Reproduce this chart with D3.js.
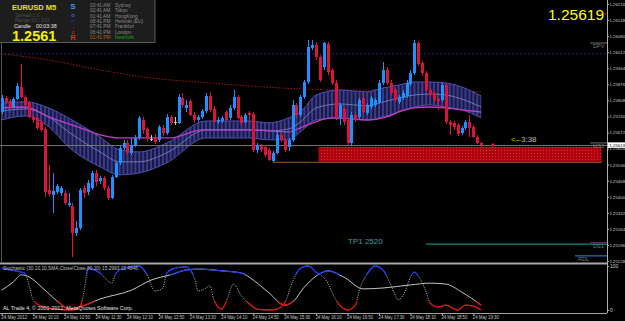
<!DOCTYPE html>
<html><head><meta charset="utf-8">
<script src="https://cdnjs.cloudflare.com/ajax/libs/d3/7.8.5/d3.min.js"></script>
<style>
html,body{margin:0;padding:0;background:#000;overflow:hidden;}
svg{display:block;}
text{font-family:"Liberation Sans",Arial,sans-serif;}
</style></head><body>
<svg id="c" width="625" height="321"></svg>
<script>
// ---------- DATA ----------
const open=[1.25759,1.25818,1.25806,1.25780,1.25814,1.25865,1.25823,1.25797,1.25738,1.25734,1.25717,1.25687,1.25429,1.25408,1.25421,1.25417,1.25417,1.25366,1.25362,1.25247,1.25269,1.25438,1.25421,1.25438,1.25501,1.25467,1.25480,1.25438,1.25395,1.25484,1.25544,1.25607,1.25628,1.25586,1.25620,1.25649,1.25725,1.25687,1.25645,1.25653,1.25641,1.25692,1.25670,1.25738,1.25717,1.25713,1.25818,1.25776,1.25806,1.25747,1.25725,1.25738,1.25763,1.25827,1.25772,1.25717,1.25721,1.25759,1.25734,1.25776,1.25823,1.25738,1.25717,1.25755,1.25751,1.25599,1.25615,1.25611,1.25599,1.25552,1.25586,1.25662,1.25641,1.25611,1.25641,1.25789,1.25747,1.25823,1.25886,1.26030,1.26043,1.25992,1.25950,1.26047,1.25937,1.25882,1.25738,1.25772,1.25725,1.25628,1.25747,1.25738,1.25818,1.25755,1.25780,1.25789,1.25802,1.25882,1.25937,1.25882,1.25852,1.25802,1.25818,1.25827,1.25878,1.25924,1.26051,1.25967,1.25924,1.25852,1.25840,1.25814,1.25810,1.25873,1.25717,1.25713,1.25704,1.25670,1.25692,1.25717,1.25696,1.25653,1.25628];
const high=[1.25831,1.25827,1.25814,1.25823,1.25882,1.25962,1.25831,1.25806,1.25747,1.25742,1.25725,1.25696,1.25535,1.25501,1.25455,1.25446,1.25429,1.25417,1.25374,1.25298,1.25438,1.25450,1.25472,1.25510,1.25514,1.25489,1.25489,1.25446,1.25493,1.25552,1.25620,1.25641,1.25641,1.25649,1.25662,1.25742,1.25738,1.25696,1.25662,1.25666,1.25704,1.25704,1.25751,1.25747,1.25738,1.25835,1.25840,1.25810,1.25814,1.25759,1.25747,1.25772,1.25840,1.25844,1.25785,1.25738,1.25742,1.25768,1.25789,1.25852,1.25831,1.25747,1.25755,1.25763,1.25759,1.25628,1.25624,1.25620,1.25607,1.25594,1.25675,1.25670,1.25649,1.25649,1.25810,1.25797,1.25831,1.25895,1.26064,1.26064,1.26055,1.26000,1.26055,1.26055,1.25945,1.25895,1.25797,1.25785,1.25734,1.25759,1.25755,1.25818,1.25835,1.25797,1.25827,1.25818,1.25895,1.25971,1.25950,1.25895,1.25861,1.25831,1.25852,1.25895,1.25937,1.26064,1.26060,1.25975,1.25933,1.25861,1.25848,1.25823,1.25882,1.25882,1.25725,1.25721,1.25713,1.25700,1.25725,1.25747,1.25704,1.25662,1.25632];
const low=[1.25751,1.25793,1.25772,1.25776,1.25810,1.25818,1.25780,1.25734,1.25713,1.25683,1.25675,1.25400,1.25404,1.25332,1.25412,1.25404,1.25366,1.25357,1.25146,1.25235,1.25260,1.25395,1.25408,1.25429,1.25446,1.25455,1.25429,1.25387,1.25391,1.25480,1.25535,1.25599,1.25577,1.25577,1.25611,1.25641,1.25666,1.25637,1.25637,1.25624,1.25632,1.25658,1.25662,1.25704,1.25704,1.25708,1.25776,1.25759,1.25742,1.25713,1.25717,1.25730,1.25755,1.25759,1.25713,1.25708,1.25713,1.25721,1.25725,1.25768,1.25730,1.25704,1.25708,1.25713,1.25590,1.25586,1.25590,1.25569,1.25552,1.25548,1.25582,1.25632,1.25590,1.25594,1.25632,1.25734,1.25738,1.25814,1.25878,1.26022,1.25979,1.25886,1.25937,1.25916,1.25873,1.25725,1.25704,1.25704,1.25620,1.25615,1.25717,1.25730,1.25751,1.25747,1.25772,1.25780,1.25793,1.25873,1.25873,1.25831,1.25802,1.25793,1.25810,1.25818,1.25869,1.25916,1.25954,1.25912,1.25844,1.25823,1.25802,1.25768,1.25802,1.25708,1.25662,1.25683,1.25658,1.25662,1.25683,1.25653,1.25649,1.25624,1.25611];
const close=[1.25818,1.25802,1.25780,1.25814,1.25869,1.25823,1.25789,1.25738,1.25725,1.25692,1.25683,1.25421,1.25412,1.25425,1.25446,1.25438,1.25374,1.25374,1.25247,1.25269,1.25429,1.25417,1.25459,1.25501,1.25463,1.25480,1.25438,1.25395,1.25484,1.25544,1.25607,1.25628,1.25586,1.25620,1.25649,1.25734,1.25683,1.25645,1.25645,1.25632,1.25696,1.25670,1.25738,1.25713,1.25717,1.25823,1.25789,1.25789,1.25747,1.25725,1.25738,1.25763,1.25827,1.25768,1.25717,1.25725,1.25734,1.25725,1.25776,1.25823,1.25734,1.25713,1.25747,1.25747,1.25599,1.25620,1.25599,1.25577,1.25556,1.25586,1.25662,1.25641,1.25599,1.25641,1.25789,1.25747,1.25823,1.25886,1.26034,1.26043,1.25992,1.25895,1.26051,1.25928,1.25882,1.25738,1.25789,1.25717,1.25628,1.25747,1.25725,1.25810,1.25759,1.25789,1.25818,1.25810,1.25882,1.25937,1.25882,1.25840,1.25810,1.25823,1.25840,1.25882,1.25924,1.26051,1.25962,1.25924,1.25852,1.25831,1.25810,1.25806,1.25873,1.25717,1.25704,1.25696,1.25666,1.25692,1.25717,1.25692,1.25653,1.25628,1.25619];

// Sonic R dragon band (EMA34 high / low / close) and EMA89, EMA200
const bandIdx=[0,6,12,17,25,30,35,42,52,63,68,73,76,80,86,93,96,101,105,109,113,117,122];
const bandUpper=[1.25797,1.25802,1.25776,1.25734,1.25653,1.25599,1.25590,1.25628,1.25721,1.25721,1.25713,1.25734,1.25759,1.25831,1.25852,1.25844,1.25857,1.25873,1.25886,1.25886,1.25882,1.25865,1.25827];
const bandLower=[1.25725,1.25742,1.25696,1.25611,1.25527,1.25493,1.25501,1.25544,1.25649,1.25649,1.25641,1.25641,1.25675,1.25725,1.25734,1.25725,1.25734,1.25759,1.25780,1.25789,1.25780,1.25768,1.25734];
const bandMid=[1.25763,1.25772,1.25738,1.25675,1.25590,1.25548,1.25548,1.25586,1.25683,1.25683,1.25679,1.25687,1.25717,1.25776,1.25793,1.25785,1.25797,1.25818,1.25831,1.25835,1.25831,1.25814,1.25780];
const ema89Idx=[0,6,12,20,25,30,43,51,64,73,76,84,93,98,101,105,109,113,117,122];
const ema89=[1.25776,1.25780,1.25738,1.25692,1.25662,1.25649,1.25649,1.25683,1.25683,1.25675,1.25692,1.25734,1.25725,1.25738,1.25759,1.25776,1.25780,1.25776,1.25768,1.25759];
const ema200Idx=[0,12,25,38,53,63,76,89,106,122];
const ema200=[1.26005,1.25979,1.25937,1.25903,1.25882,1.25869,1.25857,1.25852,1.25852,1.25844];

// Stochastic (30,10,10)
const stochIdxA=[0,3,5,7,11,15,17,20,25,33,38,43,47,50,56,61,64,68,72,74,77,80,83,87,92,97,104,109,113,117,122];
const stochA=[45,64,80,75,45,14,2,7,25,45,68,80,91,93,89,84,68,39,11,18,52,77,89,75,48,50,57,61,59,41,11];
const stochIdxB=[0,2,5,6,7,8,10,14,18,20,21,22,25,28,29,31,35,37,39,41,42,44,47,49,50,52,53,54,56,57,59,61,63,65,68,70,72,74,76,78,80,83,84,86,88,90,91,93,95,97,99,101,102,105,106,108,109,111,113,116,118,120,122];
const stochB=[95,91,86,82,55,23,9,2,0,9,45,95,84,61,82,95,100,80,43,50,84,95,98,73,43,50,55,23,2,16,59,32,14,2,0,2,16,64,95,100,86,61,41,11,0,11,45,82,100,91,57,23,32,86,77,41,16,7,11,0,11,9,0];

// axis labels
const priceTicks=[1.26216,1.26148,1.26080,1.26012,1.25944,1.25876,1.25808,1.25740,1.25672,1.25604,1.25536,1.25468,1.25400,1.25332,1.25264,1.25196,1.25128];
const timeIdx=[0,8,16,24,32,40,48,56,64,72,80,88,96,104,112,120];
const timeLabels=["24 May 2012","24 May 10:10","24 May 10:50","24 May 11:30","24 May 12:10","24 May 12:50","24 May 13:30","24 May 14:10","24 May 14:50","24 May 15:30","24 May 16:10","24 May 16:50","24 May 17:30","24 May 18:10","24 May 18:50","24 May 19:30"];

// levels / objects
const bid=1.25619;
const pivotDash=1.26005;
const levelNames=["DPV","MS1","DS1","RDL"];
const levelPrices=[1.26051,1.25628,1.25206,1.25150];
const zone={start:81,end:153,top:1.25611,bottom:1.25548};
const support={start:69,end:153,price:1.25548};
const tp1={start:108,price:1.25200,label:"TP1  2520"};
const markerIdx=125;

const sessions=["03:41 AM","02:41 AM","01:41 AM","08:41 PM","07:41 PM","06:41 PM","01:41 PM"];
const cities=["Sydney","Tokyo","HongKong","Helsinki (EU)","Frankfurt","London","NewYork"];
const sonic=["S","o","n","i","c","R"];
const sonicColors=["#3aa0ff","#2f6fe8","#23239a","#7a1010","#c01818","#ff1a1a"];

// ---------- SCALES ----------
const svg=d3.select('#c');
const axisX=607;
const x=d3.scaleLinear().domain([0,122]).range([1.7,481.2]);
const y=d3.scaleLinear().domain([1.26233,1.25124]).range([0,262]);
const ys=d3.scaleLinear().domain([0,100]).range([310,266]);
const step=x(1)-x(0);

svg.append('rect').attr('width',625).attr('height',321).attr('fill','#000');
const defs=svg.append('defs');
const pat=defs.append('pattern').attr('id','hatch').attr('patternUnits','userSpaceOnUse')
  .attr('width',step).attr('height',8).attr('x',x(0)-1);
pat.append('rect').attr('width',step).attr('height',8).attr('fill','#17173f');
pat.append('rect').attr('width',2).attr('height',8).attr('fill','#3b3b8c');
const zp=defs.append('pattern').attr('id','zonepat').attr('patternUnits','userSpaceOnUse').attr('width',3).attr('height',3);
zp.append('rect').attr('width',3).attr('height',3).attr('fill','#b3000e');
zp.append('rect').attr('x',0).attr('y',0).attr('width',1).attr('height',1).attr('fill','#e02a34');
zp.append('rect').attr('x',1.5).attr('y',1.5).attr('width',1).attr('height',1).attr('fill','#8a0008');
defs.append('clipPath').attr('id','mainClip').append('rect').attr('x',0).attr('y',0).attr('width',axisX).attr('height',262);
defs.append('clipPath').attr('id','subClip').append('rect').attr('x',0).attr('y',264.5).attr('width',axisX).attr('height',48.5);
defs.append('clipPath').attr('id','hiClip').append('rect').attr('x',0).attr('y',264.5).attr('width',axisX).attr('height',ys(80)-264.5);
defs.append('clipPath').attr('id','loClip').append('rect').attr('x',0).attr('y',ys(20)).attr('width',axisX).attr('height',313-ys(20));

const main=svg.append('g').attr('clip-path','url(#mainClip)');

// left border line
main.append('line').attr('x1',1.5).attr('x2',1.5).attr('y1',42).attr('y2',262).attr('stroke','#6a6a6a').attr('stroke-width',0.8);

// dashed navy level
main.append('line').attr('x1',0).attr('x2',axisX).attr('y1',y(pivotDash)).attr('y2',y(pivotDash))
  .attr('stroke','#23237a').attr('stroke-dasharray','2,2').attr('stroke-width',1);

// EMA200 dotted red
main.append('path').datum(ema200Idx.map((d,k)=>[d,ema200[k]]))
  .attr('d',d3.line().x(d=>x(d[0])).y(d=>y(d[1])).curve(d3.curveMonotoneX))
  .attr('fill','none').attr('stroke','#a01818').attr('stroke-width',1).attr('stroke-dasharray','1.5,1.5');

// band
const band=bandIdx.map((d,k)=>({i:d,hi:bandUpper[k],lo:bandLower[k],mid:bandMid[k]}));
main.append('path').datum(band)
  .attr('d',d3.area().x(d=>x(d.i)).y0(d=>y(d.lo)).y1(d=>y(d.hi)).curve(d3.curveMonotoneX))
  .attr('fill','url(#hatch)');
['hi','lo'].forEach(k=>{
  main.append('path').datum(band).attr('d',d3.line().x(d=>x(d.i)).y(d=>y(d[k])).curve(d3.curveMonotoneX))
    .attr('fill','none').attr('stroke','#5050b0').attr('stroke-width',1);
});
main.append('path').datum(band).attr('d',d3.line().x(d=>x(d.i)).y(d=>y(d.mid)).curve(d3.curveMonotoneX))
  .attr('fill','none').attr('stroke','#7e8cc8').attr('stroke-width',0.8);
// EMA89 magenta
main.append('path').datum(ema89Idx.map((d,k)=>[d,ema89[k]]))
  .attr('d',d3.line().x(d=>x(d[0])).y(d=>y(d[1])).curve(d3.curveMonotoneX))
  .attr('fill','none').attr('stroke','#c23cc8').attr('stroke-width',1.3);

// zone & support
main.append('rect').attr('x',x(zone.start)-1.5).attr('width',x(zone.end)-x(zone.start))
  .attr('y',y(zone.top)).attr('height',y(zone.bottom)-y(zone.top)).attr('fill','url(#zonepat)');
main.append('line').attr('x1',x(support.start)).attr('x2',x(support.end)-1).attr('y1',y(support.price)+0.5).attr('y2',y(support.price)+0.5)
  .attr('stroke','#9a5a10').attr('stroke-width',1);
// bid line
main.append('line').attr('x1',0).attr('x2',axisX).attr('y1',y(bid)+0.5).attr('y2',y(bid)+0.5)
  .attr('stroke','#767676').attr('stroke-width',1);
// TP1 line
main.append('line').attr('x1',x(tp1.start)).attr('x2',axisX).attr('y1',y(tp1.price)).attr('y2',y(tp1.price))
  .attr('stroke','#0f8a80').attr('stroke-width',1.2);
main.append('text').attr('x',348).attr('y',y(tp1.price)-0.5).text(tp1.label)
  .attr('font-size',8).attr('fill','#28a4a4');

// candles
const bars=d3.range(open.length);
const col=i=>close[i]>open[i]?'#1e90ff':(close[i]<open[i]?'#dc143c':'#c8c8c8');
const cg=main.append('g').attr('shape-rendering','crispEdges');
cg.selectAll('line.w').data(bars).join('line').attr('class','w')
  .attr('x1',i=>Math.round(x(i))+0.5).attr('x2',i=>Math.round(x(i))+0.5)
  .attr('y1',i=>y(high[i])).attr('y2',i=>y(low[i])).attr('stroke',col).attr('stroke-width',1);
cg.selectAll('rect.b').data(bars).join('rect').attr('class','b')
  .attr('x',i=>Math.round(x(i))-1).attr('width',3)
  .attr('y',i=>Math.min(y(open[i]),y(close[i])))
  .attr('height',i=>Math.max(1,Math.abs(y(open[i])-y(close[i]))))
  .attr('fill',col);
// current marker
main.append('rect').attr('x',Math.round(x(markerIdx))-1.5).attr('y',y(bid)-1.5).attr('width',3).attr('height',3).attr('fill','#dc143c');

// timer text
main.append('text').attr('x',511).attr('y',141.7).text('<--3:38')
  .attr('font-family','"Liberation Mono",monospace').attr('font-size',8).attr('fill','#c8c800');

// level marks near axis
const lvColors=['#8a8a8a','#8a8a8a','#7a3a9a','#2070e0'];
const lvStart=[590,590,590,575];
levelNames.forEach((n,k)=>{
  const yy=y(levelPrices[k]);
  svg.append('line').attr('x1',lvStart[k]).attr('x2',axisX).attr('y1',yy).attr('y2',yy).attr('stroke',lvColors[k]).attr('stroke-width',k==3?1.2:0.8);
  svg.append('text').attr('x',k==3?578:593).attr('y',yy+5.5).text(n).attr('font-size',5.5).attr('fill','#7c7c7c');
});
svg.append('line').attr('x1',597).attr('x2',axisX).attr('y1',14).attr('y2',14).attr('stroke','#d02020').attr('stroke-width',0.8);

// big price
svg.append('text').attr('x',548).attr('y',19.5).text(d3.format('.5f')(bid)).attr('font-size',15.5).attr('fill','#ffff00');

// price axis
const pa=svg.append('g').attr('transform',`translate(${axisX},0)`)
  .call(d3.axisRight(y).tickValues(priceTicks).tickSize(2).tickFormat(d3.format('.5f')));
pa.select('.domain').attr('stroke','#b0b0b0').attr('d','M0.5,0V313');
pa.selectAll('.tick line').attr('stroke','#b0b0b0');
pa.selectAll('.tick text').attr('fill','#c8c8c8').attr('font-size',4.3).attr('x',2.5).attr('font-family','"Liberation Sans",Arial,sans-serif');
// current price box
svg.append('rect').attr('x',608).attr('y',y(bid)-2.7).attr('width',17).attr('height',5.5).attr('fill','#ffffff');
svg.append('text').attr('x',609.5).attr('y',y(bid)+1.7).text(d3.format('.5f')(bid)).attr('font-size',4.3).attr('fill','#000');

// separators
svg.append('line').attr('x1',0).attr('x2',axisX).attr('y1',263.5).attr('y2',263.5).attr('stroke','#a8a8a8').attr('stroke-width',2);
svg.append('line').attr('x1',0).attr('x2',axisX).attr('y1',313.5).attr('y2',313.5).attr('stroke','#a0a0a0').attr('stroke-width',1);

// stochastic subwindow
const sub=svg.append('g').attr('clip-path','url(#subClip)');
const lineS=d3.line().x(d=>x(d[0])).y(d=>ys(d[1])).curve(d3.curveMonotoneX);
const dA=stochIdxA.map((d,k)=>[d,stochA[k]]);
const dB=stochIdxB.map((d,k)=>[d,stochB[k]]);
sub.append('path').datum(dA).attr('d',lineS).attr('fill','none').attr('stroke','#c4c4c4').attr('stroke-width',1);
sub.append('path').datum(dB).attr('d',lineS).attr('fill','none').attr('stroke','#b8b8b8').attr('stroke-width',1).attr('stroke-dasharray','1,1.3');
[['hiClip','#1c3cff'],['loClip','#e01010']].forEach(([c,colr])=>{
  const g=svg.append('g').attr('clip-path',`url(#${c})`);
  [dA,dB].forEach(dd=>g.append('path').datum(dd).attr('d',lineS).attr('fill','none').attr('stroke',colr).attr('stroke-width',1.3));
});
const sa=svg.append('g').attr('transform',`translate(${axisX},0)`)
  .call(d3.axisRight(ys).tickValues([100,0]).tickSize(2).tickFormat(d3.format('d')));
sa.select('.domain').remove();
sa.selectAll('.tick line').attr('stroke','#b0b0b0');
sa.selectAll('.tick text').attr('fill','#c8c8c8').attr('font-size',5).attr('x',3).attr('font-family','"Liberation Sans",Arial,sans-serif');
svg.append('text').attr('x',3).attr('y',270).text('Stochastic (30,10,10,SMA,Close/Close,80,20) 15.2993 12.4846')
  .attr('font-size',4.8).attr('fill','#c0c0c0').attr('textLength',135).attr('lengthAdjust','spacingAndGlyphs');
svg.append('text').attr('x',3).attr('y',310).text('AL Trade 4, \u00a9 2001-2012, MetaQuotes Software Corp.')
  .attr('font-size',5.3).attr('fill','#e6e6e6').attr('textLength',130).attr('lengthAdjust','spacingAndGlyphs');

// time axis
const ta=svg.append('g').attr('transform','translate(0,313.5)')
  .call(d3.axisBottom(x).tickValues(timeIdx).tickSize(2).tickFormat((d,k)=>timeLabels[k]));
ta.select('.domain').remove();
ta.selectAll('.tick line').attr('stroke','#b0b0b0');
ta.selectAll('.tick text').attr('fill','#c8c8c8').attr('font-size',5.5).attr('text-anchor','start')
  .attr('x',-1).attr('y',2).attr('dy','0.71em').attr('font-family','"Liberation Sans",Arial,sans-serif')
  .attr('textLength',26).attr('lengthAdjust','spacingAndGlyphs');

// info panel
const pn=svg.append('g');
pn.append('rect').attr('x',-1).attr('y',-1).attr('width',156).attr('height',43.5).attr('fill','#1d1d1d').attr('stroke','#5c5c5c').attr('stroke-width',1);
pn.append('text').attr('x',12).attr('y',9.5).text('EURUSD  M5').attr('font-size',7.5).attr('font-weight','bold').attr('fill','#e8e800');
pn.append('text').attr('x',15).attr('y',16.8).text('Spread     1.0').attr('font-size',5).attr('fill','#4e4e4e');
pn.append('text').attr('x',15).attr('y',21.8).text('Range    33 / 103').attr('font-size',5).attr('fill','#4e4e4e');
pn.append('text').attr('x',14).attr('y',27.5).text('Candle').attr('font-size',5.3).attr('fill','#e8e8e8');
pn.append('text').attr('x',36).attr('y',27.5).text('00:03:38').attr('font-size',5.3).attr('fill','#e8e8e8');
pn.append('text').attr('x',12).attr('y',41).text(d3.format('.4f')(Math.floor(bid*1e4)/1e4)).attr('font-size',14.5).attr('font-weight','bold').attr('fill','#f2f200');
const sy=[9,16.5,23,28.5,33.5,40];
sonic.forEach((s,k)=>pn.append('text').attr('x',73).attr('y',sy[k]).attr('text-anchor','middle').text(s)
  .attr('font-size',k==0||k==5?7.5:6).attr('font-weight','bold').attr('fill',sonicColors[k]));
const ry=[6.7,12.3,17.7,22.9,28.4,34,39.4];
sessions.forEach((s,k)=>{
  pn.append('text').attr('x',90).attr('y',ry[k]).text(s).attr('font-size',4.8).attr('fill',k==6?'#b0600a':'#8c8c8c');
  pn.append('text').attr('x',115).attr('y',ry[k]).text(cities[k]).attr('font-size',4.8).attr('fill',k==6?'#10b010':'#8c8c8c');
});
</script></body></html>
